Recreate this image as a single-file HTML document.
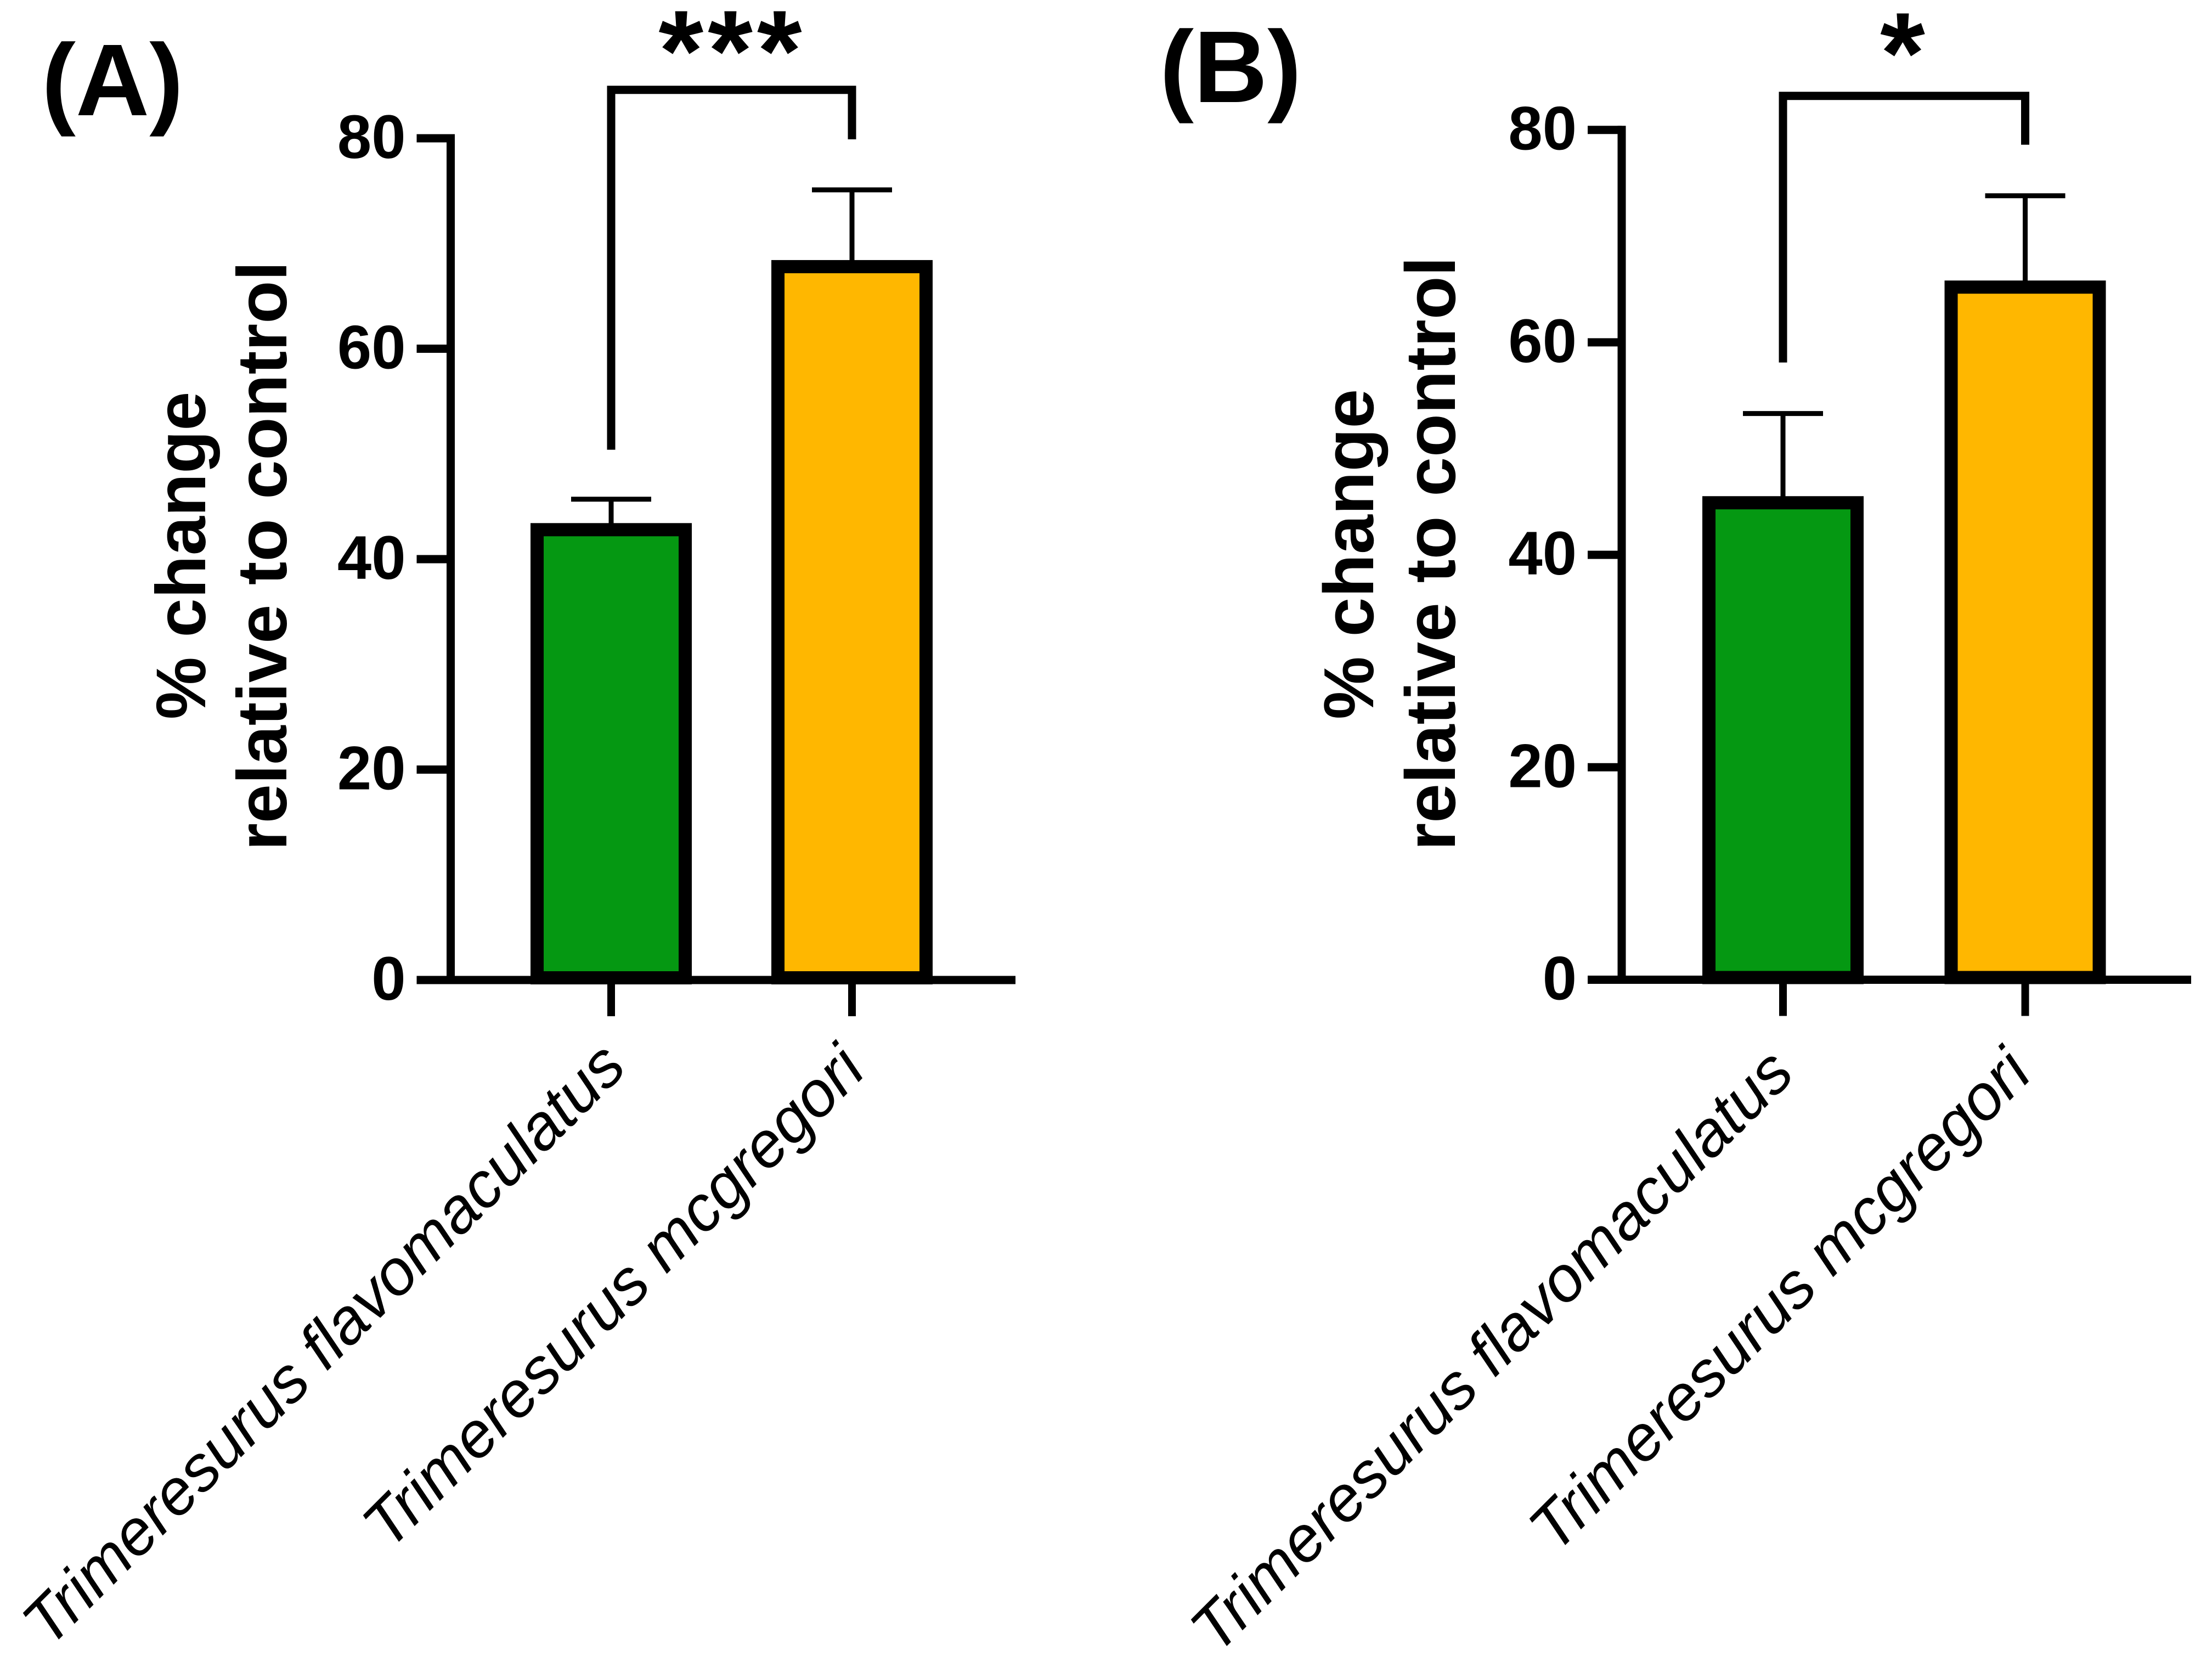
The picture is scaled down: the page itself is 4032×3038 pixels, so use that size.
<!DOCTYPE html>
<html>
<head>
<meta charset="utf-8">
<title>Percent change relative to control</title>
<style>
html,body{margin:0;padding:0;background:#fff;width:4032px;height:3038px;overflow:hidden}
svg{display:block}
text{font-family:"Liberation Sans",Arial,sans-serif;fill:#000}
.b{font-weight:700}
</style>
</head>
<body>
<svg id="figure" xmlns="http://www.w3.org/2000/svg" width="4032" height="3038" viewBox="0 0 4032 3038">
<rect width="4032" height="3038" fill="#fff"/>
<text class="b" x="76" y="210" font-size="186">(A)</text>
<text class="b" x="2114" y="186" font-size="186">(B)</text>
<text class="b" font-size="128" transform="translate(374 1311) rotate(-90)">% change</text>
<text class="b" font-size="128" transform="translate(522 1550) rotate(-90)">relative to control</text>
<text class="b" font-size="129" transform="translate(2503 1311) rotate(-90)">% change</text>
<text class="b" font-size="129" transform="translate(2652 1550) rotate(-90)">relative to control</text>
<g id="panel-a"></g>
<g id="panel-b"></g>
</svg>
<script>
// ---- chart data ----
const categories = ["Trimeresurus flavomaculatus", "Trimeresurus mcgregori"];
const yTickValues = [0, 20, 40, 60, 80];
const barColors = ["#059812", "#ffb700"];
const meansA = [42.8, 67.8];
const errorsA = [2.9, 7.3];
const meansB = [44.9, 65.2];
const errorsB = [8.4, 8.6];
const significanceA = "***";
const significanceB = "*";
const bracketTopA = 84.6;
const bracketEndsA = [50.4, 79.9];
const bracketTopB = 83.2;
const bracketEndsB = [58.1, 78.6];

// ---- layout ----
const SVGNS = "http://www.w3.org/2000/svg";
function make(parent, tag, attrs, text) {
  const el = document.createElementNS(SVGNS, tag);
  for (const k in attrs) el.setAttribute(k, attrs[k]);
  if (text !== undefined) el.textContent = text;
  parent.appendChild(el);
  return el;
}

function drawPanel(cfg) {
  const root = document.getElementById(cfg.id);
  const y = v => cfg.y0 - v * cfg.pxPerUnit;
  const x = i => cfg.x0 + i * cfg.step;

  // error bars (behind bars)
  cfg.means.forEach((m, i) => {
    const top = m + cfg.errors[i];
    const stem = make(root, "line", {x1: x(i), x2: x(i), y1: y(m), y2: y(top), stroke: "#000", "stroke-width": 9});
    
    
    const cap = make(root, "line", {x1: x(i) - 73, x2: x(i) + 73, y1: y(top), y2: y(top), stroke: "#000", "stroke-width": 9});
    
    
  });

  // bars (bottom stroke stays within the x axis line)
  cfg.means.forEach((m, i) => {
    const bar = make(root, "rect", {
      x: x(i) - 135, y: y(m), width: 270, height: cfg.y0 - y(m) - 4,
      fill: barColors[i], stroke: "#000", "stroke-width": 24
    });
    
    
  });

  // y axis
  const yAxis = make(root, "line", {x1: cfg.axisX, x2: cfg.axisX, y1: y(80) - 7.5, y2: cfg.y0 + 7.5, stroke: "#000", "stroke-width": 15});
  
  
  yTickValues.forEach(v => {
    const tick = make(root, "line", {x1: cfg.axisX - 62, x2: cfg.axisX, y1: y(v), y2: y(v), stroke: "#000", "stroke-width": 15});
    
    
    const label = make(root, "text", {
      x: cfg.axisX - 82, y: y(v) + 36, "font-size": 112, "font-weight": 700, "text-anchor": "end"
    }, String(v));
    
    
  });

  // x axis
  const xAxis = make(root, "line", {x1: cfg.axisX - 62, x2: cfg.axisEnd, y1: cfg.y0, y2: cfg.y0, stroke: "#000", "stroke-width": 15});
  
  
  categories.forEach((c, i) => {
    const tick = make(root, "line", {x1: x(i), x2: x(i), y1: cfg.y0, y2: cfg.y0 + 66, stroke: "#000", "stroke-width": 14});
    
    
    const label = make(root, "text", {
      "font-size": 117, "font-style": "italic",
      transform: "translate(" + cfg.labelStarts[i][0] + " " + cfg.labelStarts[i][1] + ") rotate(-45)"
    }, c);
    
    
  });

  // significance bracket
  const bracket = make(root, "polyline", {
    points: x(0) + "," + y(cfg.bracketEnds[0]) + " " + x(0) + "," + y(cfg.bracketTop) + " " +
            x(1) + "," + y(cfg.bracketTop) + " " + x(1) + "," + y(cfg.bracketEnds[1]),
    fill: "none", stroke: "#000", "stroke-width": 15, "stroke-linejoin": "miter"
  });
  
  
  const stars = make(root, "text", {
    x: cfg.starX, y: cfg.starY, "font-size": 210, "font-weight": 700, "text-anchor": "middle",
    "letter-spacing": 8
  }, cfg.stars);
  
  
}

drawPanel({
  id: "panel-a", means: meansA, errors: errorsA, stars: significanceA,
  bracketTop: bracketTopA, bracketEnds: bracketEndsA,
  y0: 1786, pxPerUnit: 19.175, x0: 1114, step: 439, axisX: 821.5, axisEnd: 1851,
  labelStarts: [[90, 3005], [710, 2827]], starX: 1335, starY: 165
});
drawPanel({
  id: "panel-b", means: meansB, errors: errorsB, stars: significanceB,
  bracketTop: bracketTopB, bracketEnds: bracketEndsB,
  y0: 1785.5, pxPerUnit: 19.36, x0: 3250, step: 441.5, axisX: 2956, axisEnd: 3994,
  labelStarts: [[2219, 3017], [2836, 2833]], starX: 3472, starY: 169
});
</script>
</body>
</html>
